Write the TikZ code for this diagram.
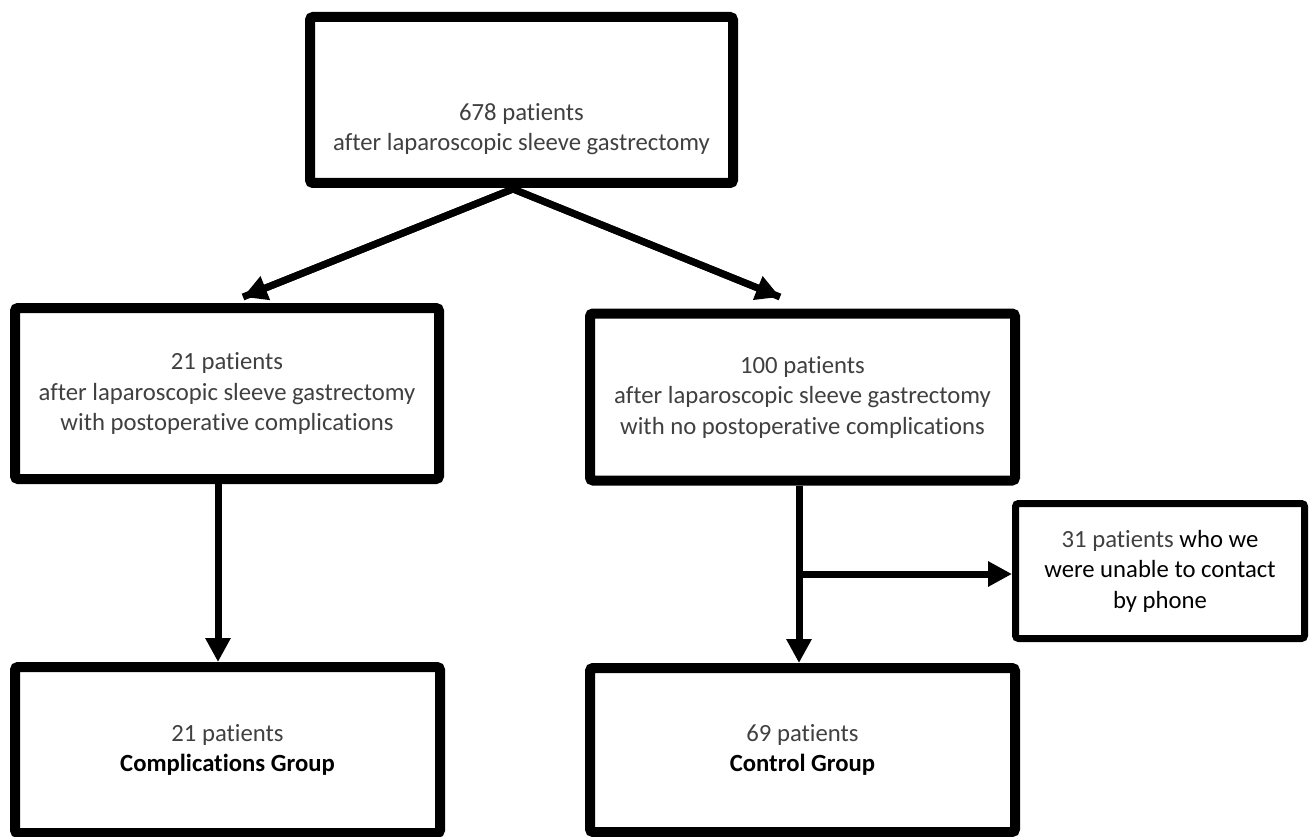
\documentclass[tikz,border=0pt]{standalone}
\usepackage{fontspec}
\setmainfont{Carlito}[Ligatures=NoCommon,RawFeature={-liga}]
\usetikzlibrary{arrows.meta}
\definecolor{txtgray}{HTML}{404040}
\begin{document}
\begin{tikzpicture}[x=1pt,y=-1pt,
  box/.style={draw=black,line width=10pt,rounded corners=3pt,fill=white,inner sep=0pt},
  smallbox/.style={draw=black,line width=7pt,rounded corners=3pt,fill=white,inner sep=0pt},
  txt/.style={align=center,text=txtgray,font=\fontsize{24.7}{30.5}\selectfont,inner sep=0pt},
  arr/.style={line width=7pt,-{Triangle[length=24pt,width=24pt]}},
]
\useasboundingbox (0,0) rectangle (1309,837);
% boxes
\node[box,minimum width=423pt,minimum height=166pt] (top) at (521.5,100) {};
\node[txt] (toptxt) at (521.5,129) {678 patients\\after laparoscopic sleeve gastrectomy};
\node[box,minimum width=424pt,minimum height=171pt,txt] (left) at (227,393.5)
  {21 patients\\after laparoscopic sleeve gastrectomy\\with postoperative complications};
\node[box,minimum width=425pt,minimum height=167pt,txt] (right) at (802.5,397)
  {100 patients\\after laparoscopic sleeve gastrectomy\\with no postoperative complications};
\node[smallbox,minimum width=289pt,minimum height=135pt,txt] (side) at (1160,571)
  {31 patients \textcolor{black}{who we}\\\textcolor{black}{were unable to contact}\\\textcolor{black}{by phone}};
\node[box,minimum width=425pt,minimum height=166pt,txt] (botleft) at (227.5,750)
  {21 patients\\\textcolor{black}{\bfseries Complications Group}};
\node[box,minimum width=425pt,minimum height=164pt,txt] (botright) at (802.5,750)
  {69 patients\\\textcolor{black}{\bfseries Control Group}};
% connectors
\coordinate (apex) at (513,189);
\coordinate (ltip) at (243,297);
\coordinate (rtip) at (780,297);
\draw[line width=7pt,line join=miter] (ltip) -- (apex) -- (rtip);
\draw[arr] (apex) -- (ltip);
\draw[arr] (apex) -- (rtip);
\draw[arr] (218,483) -- (botleft.north -| 218,0);
\coordinate (branch) at (799,574);
\draw[arr] (right.south -| branch) -- (botright.north -| branch);
\draw[arr] (branch) -- (branch -| side.west);
\end{tikzpicture}
\end{document}
